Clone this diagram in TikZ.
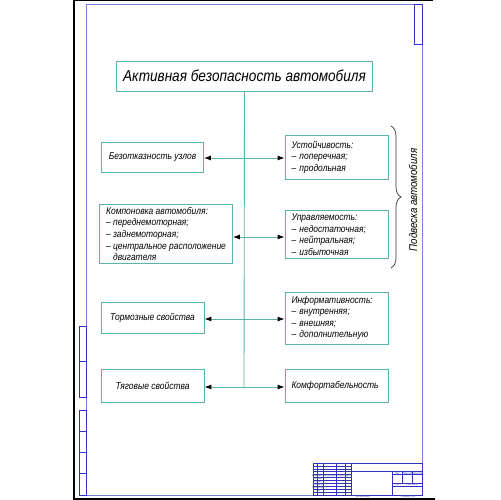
\documentclass[tikz,border=0pt]{standalone}
\usepackage{fontspec}
\setmainfont{Liberation Sans}
\newfontfamily\gost[FakeStretch=0.86]{Liberation Sans}
\usetikzlibrary{arrows.meta,decorations.pathreplacing}

\definecolor{boxteal}{RGB}{90,180,170}
\definecolor{framelilac}{RGB}{125,125,220}
\definecolor{stampblue}{RGB}{50,50,190}

\tikzset{
  blok/.style={draw=boxteal, line width=0.5pt, fill=white, inner xsep=1.3mm, inner ysep=0.6mm,
    font=\gost\itshape\fontsize{5.6}{6.6}\selectfont},
  rblok/.style={blok, align=left, text width=18mm, minimum width=20.6mm},
  liniya/.style={draw=boxteal, line width=0.5pt},
  strelka/.style={liniya, -{Latex[length=1.4mm,width=1mm,black]}},
  stamp/.style={draw=stampblue, line width=0.3pt},
  stamptxt/.style={inner sep=0pt, text=stampblue!70!gray, font=\fontsize{1.6}{1.8}\selectfont}
}

\begin{document}
\begin{tikzpicture}[x=0.02cm,y=-0.02cm]
    \useasboundingbox[fill=white] (0,0) rectangle (500,500);

    % sheet frame
    \draw[black, line width=0.6pt] (433,0.5) -- (74,0.5) -- (74,499) -- (435,499);
    \draw[draw=framelilac, line width=0.5pt] (86,4) rectangle (422,495);
    \draw[stamp] (414,4) rectangle (422,44);
    \draw[stamp] (79,326) rectangle (86,397);
    \draw[stamp] (79,361) -- (86,361);
    \draw[stamp] (79,410) rectangle (86,495);
    \foreach \y in {431,452,473}{% strip cells
      \draw[stamp] (79,\y) -- (86,\y);
    }

    % title block
    \draw[stamp] (313,463) rectangle (422,495);
    \foreach \x in {317,323,336.5,345.3,351.2}{%
      \draw[stamp] (\x,463) -- (\x,495);
    }
    \foreach \k in {1,...,10}{%
      \draw[stamp] (313,{463+\k*2.9}) -- (351.2,{463+\k*2.9});
    }
    \draw[stamp] (351.2,471.7) -- (422,471.7);
    \draw[stamp] (392.5,471.7) -- (392.5,495);
    \draw[stamp] (392.5,474.6) -- (422,474.6);
    \draw[stamp] (392.5,483.4) -- (422,483.4);
    \draw[stamp] (392.5,486.3) -- (422,486.3);
    \foreach \x in {402.5,412.5}{%
      \draw[stamp] (\x,471.7) -- (\x,483.4);
    }
    \foreach \x/\t in {315/Изм., 320/Лист, 330/№ докум., 341/Подп., 348/Дата}{%
      \node[stamptxt] at (\x,476) {\t};
    }
    \foreach \y/\t in {479/Разраб., 482/Пров., 485/Т.контр., 488/Н.контр., 491/Утв.}{%
      \node[stamptxt] at (318,\y) {\t};
    }
    \node[stamptxt] (lit) at (397.5,473.2) {Лит.};
    \node[stamptxt] (massa) at (407.5,473.2) {Масса};
    \node[stamptxt] (masht) at (417.3,473.2) {Масштаб};
    \node[stamptxt] (list) at (398,484.9) {Лист};
    \node[stamptxt] (listov) at (412,484.9) {Листов 1};
    \node[stamptxt] (kopir) at (363,497.3) {Копировал};
    \node[stamptxt] (format) at (408,497.3) {Формат A4};

    % scheme
    \node[blok, minimum width=49mm, minimum height=6mm,
      font=\gost\itshape\fontsize{9}{10}\selectfont] (titul) at (244.5,76) {Активная безопасность автомобиля};

    \node[blok, minimum width=20.4mm, minimum height=6mm] (uzly) at (152.5,157) {Безотказность узлов};
    \node[blok, align=left, minimum width=26mm, minimum height=11.8mm] (komp) at (166,234)
      {Компоновка автомобиля:\\– переднемоторная;\\– заднемоторная;\\– центральное расположение\\\phantom{– }двигателя};
    \node[blok, minimum width=20.6mm, minimum height=6.2mm] (torm) at (152.5,317.5) {Тормозные свойства};
    \node[blok, minimum width=20.6mm, minimum height=6.6mm] (tyag) at (152.5,385.5) {Тяговые свойства};

    \node[rblok, minimum height=8.8mm] (ust) at (336.5,157) {Устойчивость:\\– поперечная;\\– продольная};
    \node[rblok, minimum height=9.4mm] (upr) at (336.5,234.5) {Управляемость:\\– недостаточная;\\– нейтральная;\\– избыточная};
    \node[rblok, minimum height=10.4mm] (info) at (336.5,318) {Информативность:\\– внутренняя;\\– внешняя;\\– дополнительную};
    \node[rblok, minimum height=6.6mm] (komf) at (336.5,385.5) {Комфортабельность};

    \coordinate (r1) at (244,158);
    \coordinate (r2) at (244,237);
    \coordinate (r3) at (244,319);
    \coordinate (r4) at (244,387);
    \draw[liniya] (titul.south) -- (r4);
    \foreach \r/\l/\p in {r1/uzly/ust, r2/komp/upr, r3/torm/info, r4/tyag/komf}{%
      \draw[strelka] (\r) -- (\r -| \l.east);
      \draw[strelka] (\r) -- (\r -| \p.west);
    }

    \draw[black!80, line width=0.4pt, decorate, decoration={brace, amplitude=2mm}] (391,126) -- (391,268);
    \node[rotate=90, font=\gost\itshape\fontsize{6.4}{7}\selectfont] (podv) at (413,200) {Подвеска автомобиля};
\end{tikzpicture}
\end{document}
